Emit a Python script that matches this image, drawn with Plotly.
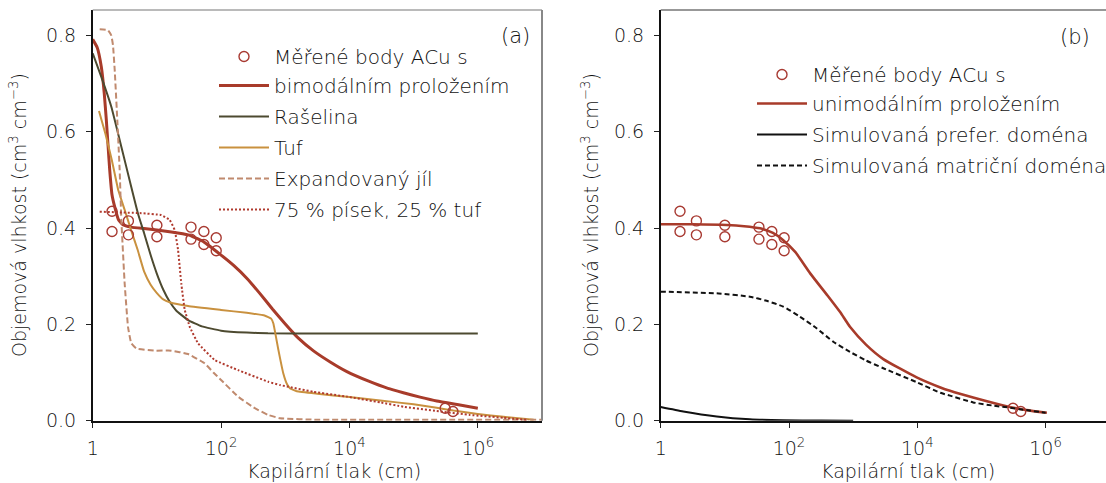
import numpy as np
import plotly.graph_objects as go

# ---------------- data ----------------
# measured points (capillary pressure in cm, volumetric water content)
meas_h = [2, 2, 3.6, 3.6, 10, 10, 34, 34, 54, 54, 84, 84, 3.1e5, 4.1e5]
meas_theta = [0.435, 0.393, 0.415, 0.386, 0.406, 0.382, 0.402, 0.377,
              0.393, 0.366, 0.380, 0.353, 0.026, 0.019]

# panel (a) curves: log10(h) and theta
bimod_logh = [0, 0.07, 0.134, 0.18, 0.212, 0.24, 0.265, 0.30, 0.343, 0.40, 0.47, 0.6,
              0.8, 1.0, 1.225, 1.486, 1.7, 2.0, 2.2, 2.4, 2.6, 2.8, 3.0, 3.2, 3.44,
              3.7, 3.96, 4.3, 4.6, 4.84, 5.1, 5.36, 5.7, 6.0]
bimod_theta = [0.792, 0.775, 0.735, 0.68, 0.625, 0.57, 0.521, 0.47, 0.444, 0.418, 0.407, 0.402,
               0.399, 0.396, 0.392, 0.386, 0.374, 0.344, 0.322, 0.296, 0.265, 0.232, 0.201, 0.172, 0.145,
               0.122, 0.102, 0.082, 0.067, 0.058, 0.049, 0.041, 0.033, 0.026]

peat_logh = [0, 0.134, 0.29, 0.446, 0.6, 0.706, 0.8, 0.9, 1.0, 1.1, 1.2, 1.3, 1.486, 1.7, 2.0, 2.4,
             2.73, 3.5, 6.0]
peat_theta = [0.763, 0.714, 0.652, 0.569, 0.486, 0.43, 0.39, 0.345, 0.305, 0.272, 0.247, 0.229,
              0.209, 0.196, 0.187, 0.183, 0.1815, 0.181, 0.181]

tuff_logh = [0.098, 0.2, 0.3, 0.4, 0.5, 0.6, 0.7, 0.8, 0.9, 1.0, 1.1, 1.2, 1.486, 2.0, 2.4,
             2.686, 2.78, 2.815, 2.893, 2.97, 3.03, 3.076, 3.18, 3.5, 4.0, 4.48, 5.0, 5.36,
             5.62, 6.0, 6.4, 6.87]
tuff_theta = [0.643, 0.595, 0.54, 0.478, 0.437, 0.395, 0.355, 0.31, 0.283, 0.265, 0.252, 0.246,
              0.238, 0.230, 0.224, 0.218, 0.212, 0.202, 0.147, 0.098, 0.075, 0.067, 0.061, 0.056,
              0.049, 0.042, 0.034, 0.027, 0.021, 0.014, 0.008, 0.002]

clay_logh = [0.109, 0.239, 0.29, 0.316, 0.343, 0.383, 0.42, 0.446, 0.498, 0.55, 0.60, 0.68,
             0.966, 1.225, 1.486, 1.746, 1.88, 2.0, 2.265, 2.525, 2.733, 2.92, 3.5, 7.0]
clay_theta = [0.813, 0.811, 0.80, 0.78, 0.728, 0.625, 0.521, 0.417, 0.285, 0.195, 0.161, 0.150,
              0.1455, 0.1455, 0.1385, 0.119, 0.100, 0.0845, 0.050, 0.026, 0.012, 0.005, 0.002, 0.002]

mix_logh = [0.109, 0.757, 1.07, 1.2, 1.278, 1.33, 1.38, 1.434, 1.512, 1.64, 1.90, 2.265, 2.733,
            2.92, 3.44, 3.96, 4.48, 4.84, 5.36, 5.88, 6.40, 6.79]
mix_theta = [0.434, 0.431, 0.427, 0.417, 0.396, 0.3545, 0.285, 0.230, 0.195, 0.161, 0.126, 0.105,
             0.081, 0.074, 0.060, 0.050, 0.038, 0.029, 0.020, 0.012, 0.006, 0.0015]

# panel (b) curves
unimod_logh = [0, 0.5, 1.03, 1.3, 1.55, 1.75, 1.91, 2.1, 2.33, 2.6, 2.8, 2.95, 3.2, 3.47, 3.99,
               4.36, 4.51, 4.87, 5.39, 5.7, 6.02]
unimod_theta = [0.408, 0.408, 0.4065, 0.404, 0.3995, 0.39, 0.375, 0.35, 0.306, 0.26, 0.225, 0.195,
                0.158, 0.128, 0.090, 0.069, 0.062, 0.048, 0.030, 0.022, 0.0166]

pref_logh = [0, 0.352, 0.873, 1.39, 1.91, 2.5, 3.0]
pref_theta = [0.0285, 0.0193, 0.0089, 0.003, 0.001, 0.0003, 0.0]

matrix_logh = [0, 0.873, 1.39, 1.65, 1.91, 2.17, 2.43, 2.69, 2.95, 3.2, 3.47, 3.99, 4.36, 4.51,
               4.87, 5.2, 5.45, 5.7, 6.0]
matrix_theta = [0.268, 0.2645, 0.2575, 0.249, 0.237, 0.216, 0.192, 0.164, 0.143, 0.125, 0.109,
                0.080, 0.058, 0.052, 0.038, 0.031, 0.027, 0.022, 0.0165]

x_tickvals = [1, 1e2, 1e4, 1e6]
x_ticktext = ["1", "10<sup>2</sup>", "10<sup>4</sup>", "10<sup>6</sup>"]
y_tickvals = [0, 0.2, 0.4, 0.6, 0.8]
y_ticktext = ["0.0", "0.2", "0.4", "0.6", "0.8"]

# ---------------- styling ----------------
FONT = "DejaVu Sans"
WEIGHT = 200
RED = "#a83b2a"
PEAT = "#4d4a30"
TUFF = "#c9913f"
CLAY = "#c08a6e"
MIX = "#b03a2e"
MARK = "#a83a32"
TXT = "#111"

W, H = 1106, 483


def h(logs):
    return [10 ** v for v in logs]


def fnt(size):
    return dict(family=FONT, size=size, color=TXT, weight=WEIGHT)


fig = go.Figure()

# ---- panel (a)
fig.add_trace(go.Scatter(x=h(bimod_logh), y=bimod_theta, mode="lines", name="bimodálním proložením",
                         line=dict(color=RED, width=3, shape="spline", smoothing=0.4),
                         xaxis="x", yaxis="y", legend="legend", legendgroup="a1", legendrank=2))
fig.add_trace(go.Scatter(x=h(peat_logh), y=peat_theta, mode="lines", name="Rašelina",
                         line=dict(color=PEAT, width=2, shape="spline", smoothing=0.4),
                         xaxis="x", yaxis="y", legend="legend", legendgroup="a2", legendrank=3))
fig.add_trace(go.Scatter(x=h(tuff_logh), y=tuff_theta, mode="lines", name="Tuf",
                         line=dict(color=TUFF, width=2, shape="spline", smoothing=0.3),
                         xaxis="x", yaxis="y", legend="legend", legendgroup="a3", legendrank=4))
fig.add_trace(go.Scatter(x=h(clay_logh), y=clay_theta, mode="lines", name="Expandovaný jíl",
                         line=dict(color=CLAY, width=2, dash="6px,3px", shape="spline", smoothing=0.3),
                         xaxis="x", yaxis="y", legend="legend", legendgroup="a4", legendrank=5))
fig.add_trace(go.Scatter(x=h(mix_logh), y=mix_theta, mode="lines", name="75 % písek, 25 % tuf",
                         line=dict(color=MIX, width=2, dash="2px,2px", shape="spline", smoothing=0.25),
                         xaxis="x", yaxis="y", legend="legend", legendgroup="a5", legendrank=6))
fig.add_trace(go.Scatter(x=meas_h, y=meas_theta, mode="markers", name="Měřené body ACu s",
                         marker=dict(symbol="circle-open", size=10, color=MARK, line=dict(width=1.4)),
                         xaxis="x", yaxis="y", legend="legend", legendgroup="a1", legendrank=1))

# ---- panel (b)
fig.add_trace(go.Scatter(x=h(unimod_logh), y=unimod_theta, mode="lines", name="unimodálním proložením",
                         line=dict(color=RED, width=2.6, shape="spline", smoothing=0.5),
                         xaxis="x2", yaxis="y2", legend="legend2", legendgroup="b1", legendrank=2))
fig.add_trace(go.Scatter(x=h(pref_logh), y=pref_theta, mode="lines", name="Simulovaná prefer. doména",
                         line=dict(color="#111111", width=2, shape="spline", smoothing=0.5),
                         xaxis="x2", yaxis="y2", legend="legend2", legendgroup="b2", legendrank=3))
fig.add_trace(go.Scatter(x=h(matrix_logh), y=matrix_theta, mode="lines", name="Simulovaná matriční doména",
                         line=dict(color="#111111", width=2, dash="5px,3px", shape="spline", smoothing=0.5),
                         xaxis="x2", yaxis="y2", legend="legend2", legendgroup="b3", legendrank=4))
fig.add_trace(go.Scatter(x=meas_h, y=meas_theta, mode="markers", name="Měřené body ACu s",
                         marker=dict(symbol="circle-open", size=10, color=MARK, line=dict(width=1.4)),
                         xaxis="x2", yaxis="y2", legend="legend2", legendgroup="b1", legendrank=1))

# ---- axes
xa = (92.7 / W, 542 / W)
xb = (660.7 / W, 1.0)
yd = ((H - 420.7) / H, (H - 10) / H)
ymax = (420.7 - 10) / 481.5
xb_max = (W - 660.7) / 64.15  # log10 of the pressure at the right window edge

common_x = dict(type="log", tickvals=x_tickvals, ticktext=x_ticktext, ticks="outside", ticklen=5,
                tickcolor="#222", showline=True, linecolor="#111", linewidth=2, showgrid=False,
                zeroline=False, tickfont=fnt(19), ticklabelstandoff=4, automargin=False)
common_y = dict(range=[0, ymax], tickvals=y_tickvals, ticktext=y_ticktext, ticks="outside", ticklen=5,
                tickcolor="#222", showline=True, linecolor="#111", linewidth=1.5, showgrid=False,
                zeroline=False, tickfont=fnt(19), ticklabelstandoff=6, automargin=False)

fig.update_layout(
    width=W, height=H, margin=dict(l=0, r=0, t=0, b=0, autoexpand=False),
    paper_bgcolor="white", plot_bgcolor="white",
    font=fnt(19),
    xaxis=dict(domain=list(xa), range=[0, 7], anchor="y", **common_x),
    yaxis=dict(domain=list(yd), anchor="x", **common_y),
    xaxis2=dict(domain=list(xb), range=[0, xb_max], anchor="y2", **common_x),
    yaxis2=dict(domain=list(yd), anchor="x2", **common_y),
    legend=dict(x=214 / W, y=1 - 37 / H, xanchor="left", yanchor="top", bgcolor="rgba(0,0,0,0)",
                font=fnt(20), traceorder="grouped", tracegroupgap=2, itemwidth=50),
    legend2=dict(x=752 / W, y=1 - 55 / H, xanchor="left", yanchor="top", bgcolor="rgba(0,0,0,0)",
                 font=fnt(20), traceorder="grouped", tracegroupgap=2, itemwidth=50),
    showlegend=True,
)

# frame lines (top / right borders)
fig.add_shape(type="line", xref="x domain", yref="y domain", x0=0, x1=1, y0=1, y1=1,
              line=dict(color="#777", width=1.2))
fig.add_shape(type="line", xref="x domain", yref="y domain", x0=1, x1=1, y0=0, y1=1,
              line=dict(color="#888", width=2))
fig.add_shape(type="line", xref="x2 domain", yref="y2 domain", x0=0, x1=1, y0=1, y1=1,
              line=dict(color="#333", width=1.2))

ytitle = "Objemová vlhkost (cm<sup>3</sup> cm<sup>−3</sup>)"
ann = [
    dict(text="(a)", x=515 / W, y=1 - 36 / H, size=21),
    dict(text="(b)", x=1075 / W, y=1 - 37 / H, size=21),
    dict(text="Kapilární tlak (cm)", x=334 / W, y=1 - 471 / H, size=19),
    dict(text="Kapilární tlak (cm)", x=908 / W, y=1 - 471 / H, size=19),
    dict(text=ytitle, x=18 / W, y=1 - 215 / H, textangle=-90, size=19),
    dict(text=ytitle, x=590 / W, y=1 - 215 / H, textangle=-90, size=19),
]
for a in ann:
    size = a.pop("size")
    fig.add_annotation(xref="paper", yref="paper", showarrow=False, xanchor="center", yanchor="middle",
                       font=fnt(size), **a)

fig.write_html("out.html")
